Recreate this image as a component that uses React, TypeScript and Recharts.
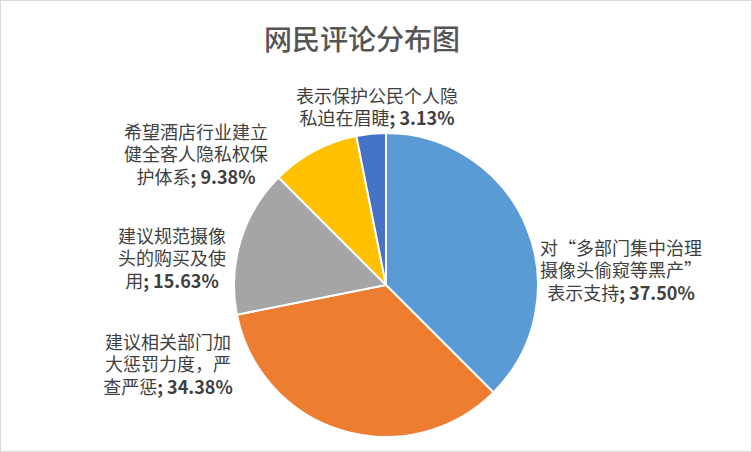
import React from 'react';
import { PieChart, Pie, Cell } from 'recharts';

const categories = [
  '对“多部门集中治理摄像头偷窥等黑产”表示支持',
  '建议相关部门加大惩罚力度，严查严惩',
  '建议规范摄像头的购买及使用',
  '希望酒店行业建立健全客人隐私权保护体系',
  '表示保护公民个人隐私迫在眉睫',
];
const values = [12, 11, 5, 3, 1];
const labelLines = [
  ['对“多部门集中治理', '摄像头偷窥等黑产”', '表示支持'],
  ['建议相关部门加', '大惩罚力度，严', '查严惩'],
  ['建议规范摄像', '头的购买及使', '用'],
  ['希望酒店行业建立', '健全客人隐私权保', '护体系'],
  ['表示保护公民个人隐', '私迫在眉睫'],
];
const colors = ['#5B9BD5', '#ED7D31', '#A5A5A5', '#FFC000', '#4472C4'];

// label block centre offsets relative to pie centre (layout)
const labelOffsets = [
  [235, -16],
  [-218, 78],
  [-214, -28],
  [-190, -132],
  [-9, -179],
];

const total = values.reduce((a, b) => a + b, 0);
const data = categories.map((name, i) => ({ name, value: values[i] }));

const LINE_H = 22.5;
const FONT = '"Noto Sans CJK SC", "Noto Sans", sans-serif';

const renderLabel = (props: any) => {
  const { cx, cy, index } = props;
  const lines = labelLines[index];
  const pct = ((values[index] / total) * 100).toFixed(2) + '%';
  const [dx, dy] = labelOffsets[index];
  const n = lines.length;
  return (
    <text
      x={cx + dx}
      y={cy + dy}
      textAnchor="middle"
      fill="#3F3F3F"
      fontSize={18}
      fontFamily={FONT}
    >
      {lines.map((ln, i) => (
        <tspan
          key={i}
          x={cx + dx}
          y={cy + dy + (i - (n - 1) / 2) * LINE_H}
          dominantBaseline="central"
        >
          {ln}
          {i === n - 1 ? (
            <tspan fontWeight="bold">{'; ' + pct}</tspan>
          ) : null}
        </tspan>
      ))}
    </text>
  );
};

export default function App() {
  return (
    <div
      style={{
        position: 'absolute',
        left: 0,
        top: 0,
        width: 752,
        height: 452,
        boxSizing: 'border-box',
        border: '1px solid #D9D9D9',
        background: '#FFFFFF',
      }}
    >
      <div
        style={{
          position: 'absolute',
          left: 0,
          top: 19,
          width: 722,
          textAlign: 'center',
          fontFamily: FONT,
          fontSize: 28,
          lineHeight: '36px',
          color: '#555555',
          fontWeight: 500,
        }}
      >
        网民评论分布图
      </div>
      <PieChart width={750} height={450}>
        <Pie
          data={data}
          dataKey="value"
          nameKey="name"
          cx={380}
          cy={279}
          outerRadius={152}
          startAngle={90}
          endAngle={-270}
          stroke="#FFFFFF"
          strokeWidth={2}
          label={renderLabel}
          labelLine={false}
          isAnimationActive={false}
        >
          {data.map((d, i) => (
            <Cell key={i} fill={colors[i]} />
          ))}
        </Pie>
      </PieChart>
    </div>
  );
}
